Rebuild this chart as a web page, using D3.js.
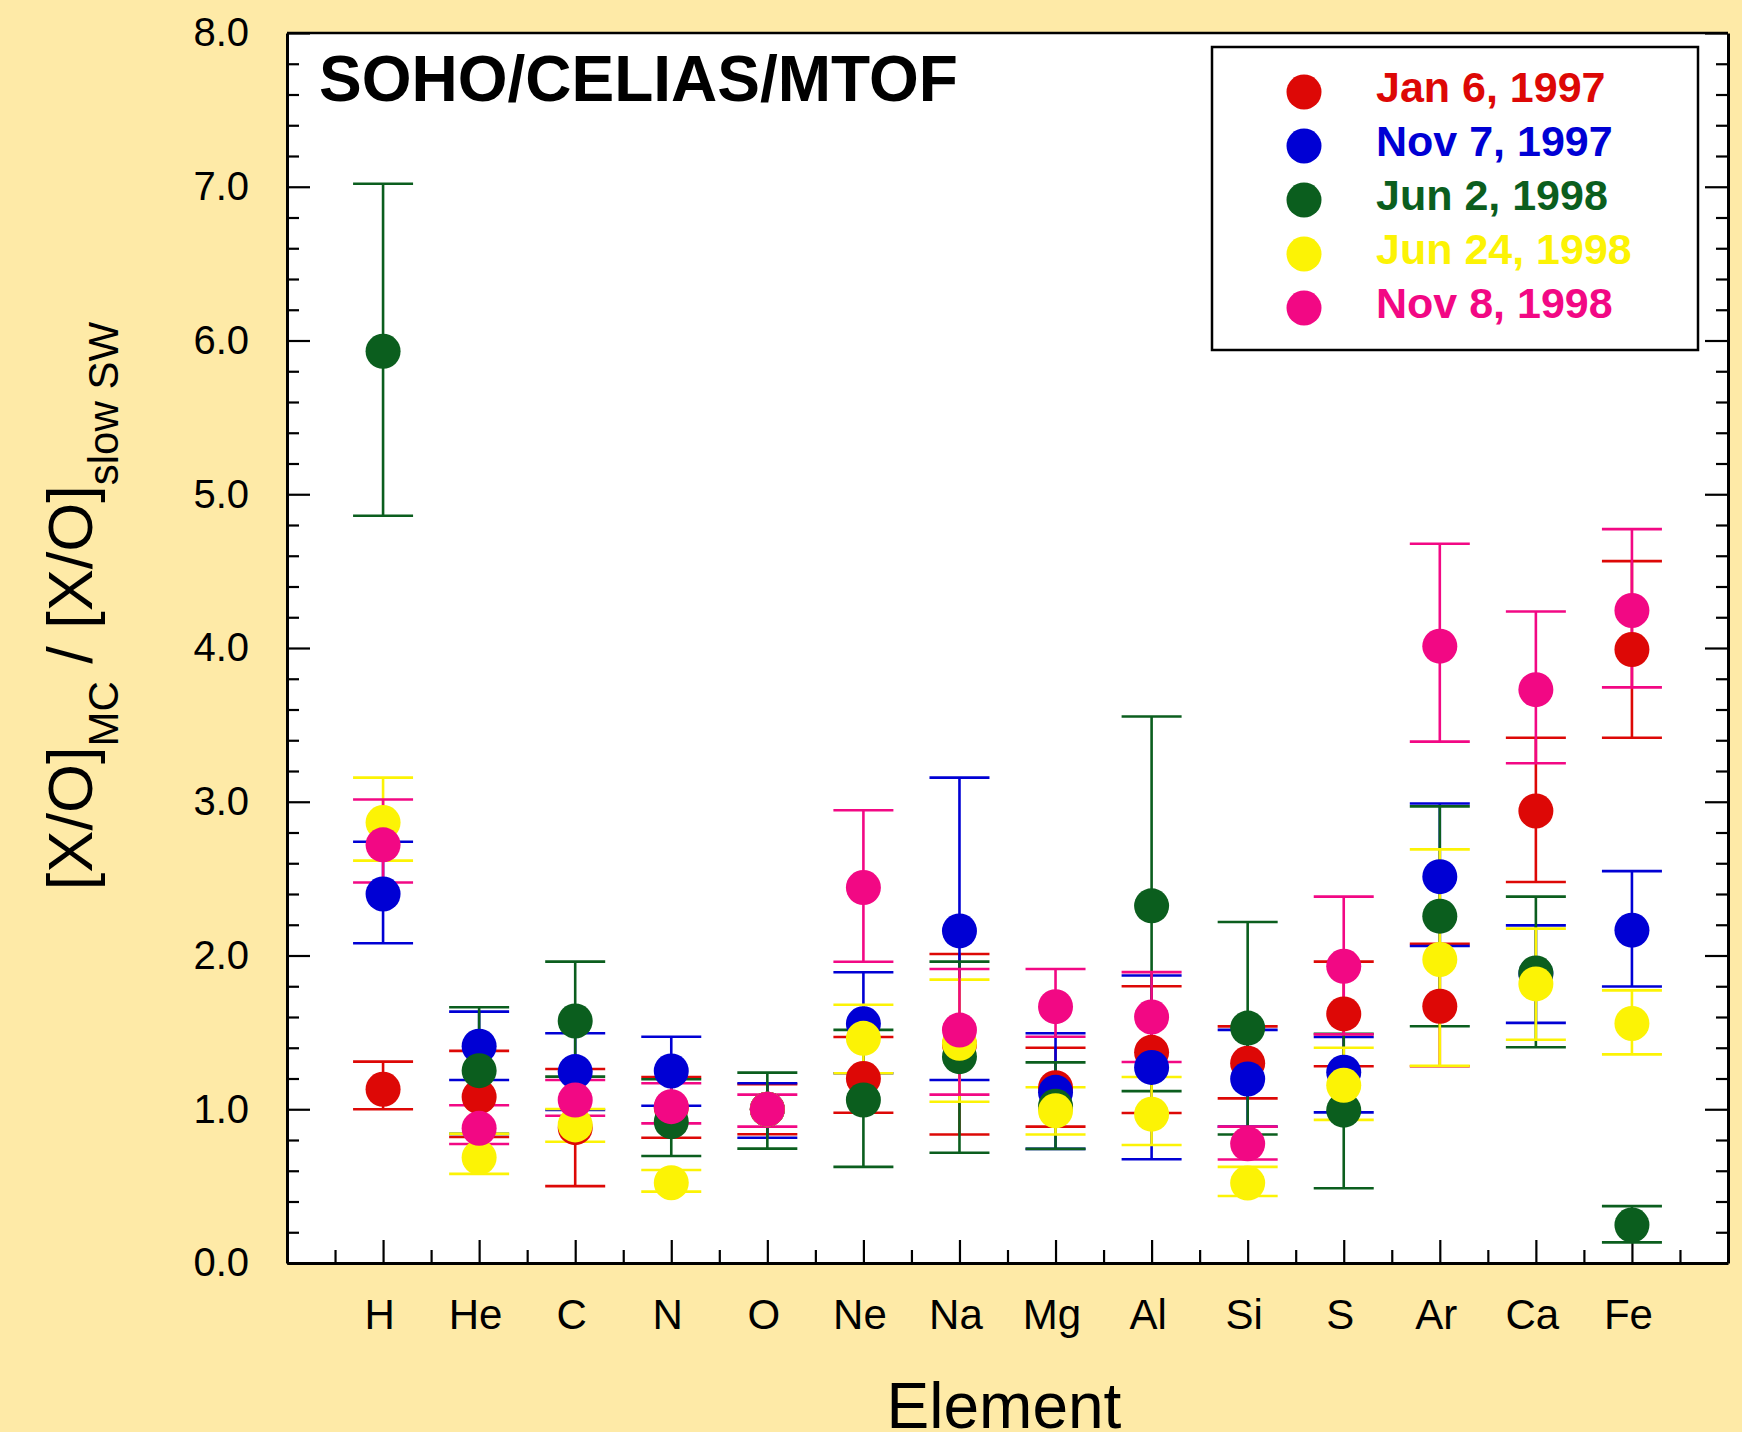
<!DOCTYPE html>
<html>
<head>
<meta charset="utf-8">
<script src="https://cdn.jsdelivr.net/npm/d3@7"></script>
<style>
  html, body { margin: 0; padding: 0; background: #feeaa7; }
  svg { display: block; font-family: "Liberation Sans", Arial, Helvetica, sans-serif; }
</style>
</head>
<body>
<svg id="chart" width="1742" height="1432"></svg>
<script>
const elements = ["H", "He", "C", "N", "O", "Ne", "Na", "Mg", "Al", "Si", "S", "Ar", "Ca", "Fe"];
const yTicks = [0, 1, 2, 3, 4, 5, 6, 7, 8];

const seriesNames = ["Jan 6, 1997", "Nov 7, 1997", "Jun 2, 1998", "Jun 24, 1998", "Nov 8, 1998"];
const seriesColors = ["#dd0806", "#0000d4", "#0b5e1e", "#fcf305", "#f20884"];

// values and error bar ends, one entry per element (null = no bar)
const jan97 = [1.13, 1.08, 0.88, 1.01, 1.0, 1.20, 1.42, 1.14, 1.37, 1.30, 1.62, 1.67, 2.94, 3.99];
const jan97Lo = [1.00, 0.82, 0.50, 0.815, 0.837, 0.977, 0.836, 0.887, 0.976, 1.071, 1.28, 1.28, 2.478, 3.416];
const jan97Hi = [1.31, 1.38, 1.262, 1.21, 1.163, 1.47, 2.01, 1.40, 1.80, 1.539, 1.96, 2.076, 3.416, 4.565];

const nov97 = [2.40, 1.41, 1.245, 1.249, 1.0, 1.556, 2.16, 1.11, 1.272, 1.197, 1.241, 2.513, 1.88, 2.165];
const nov97Lo = [2.08, 1.19, 0.995, 1.023, 0.815, 1.234, 1.19, 0.742, 0.675, 0.887, 0.98, 2.062, 1.562, 1.798];
const nov97Hi = [2.74, 1.635, 1.494, 1.472, 1.169, 1.891, 3.157, 1.494, 1.87, 1.516, 1.47, 2.989, 2.196, 2.549];

const jun98 = [5.93, 1.251, 1.574, 0.919, 1.0, 1.06, 1.342, 1.02, 2.323, 1.528, 0.994, 2.256, 1.886, 0.247];
const jun98Lo = [4.86, 0.84, 1.212, 0.696, 0.744, 0.625, 0.717, 0.742, 1.118, 0.836, 0.486, 1.54, 1.403, 0.134];
const jun98Hi = [7.02, 1.663, 1.96, 1.195, 1.238, 1.516, 1.96, 1.305, 3.554, 2.218, 1.49, 2.97, 2.383, 0.37];

const jun2498 = [2.865, 0.686, 0.898, 0.522, 1.0, 1.461, 1.429, 0.99, 0.968, 0.52, 1.156, 1.974, 1.815, 1.558];
const jun2498Lo = [2.617, 0.58, 0.789, 0.464, null, 1.234, 1.049, 0.836, 0.767, 0.436, 0.931, 1.283, 1.452, 1.357];
const jun2498Hi = [3.157, 0.841, 1.002, 0.605, null, 1.68, 1.843, 1.143, 1.21, 0.625, 1.40, 2.69, 2.175, 1.773];

const nov98 = [2.72, 0.876, 1.06, 1.017, 1.0, 2.442, 1.515, 1.667, 1.60, 0.775, 1.93, 4.012, 3.729, 4.244];
const nov98Lo = [2.475, 0.774, 0.958, 0.908, 0.887, 1.959, 1.095, 1.472, 1.307, 0.673, 1.487, 3.391, 3.25, 3.744];
const nov98Hi = [3.015, 1.026, 1.19, 1.169, 1.095, 2.945, 1.912, 1.912, 1.892, 0.887, 2.383, 4.678, 4.237, 4.773];

const series = [
  { name: seriesNames[0], color: seriesColors[0], val: jan97, lo: jan97Lo, hi: jan97Hi },
  { name: seriesNames[1], color: seriesColors[1], val: nov97, lo: nov97Lo, hi: nov97Hi },
  { name: seriesNames[2], color: seriesColors[2], val: jun98, lo: jun98Lo, hi: jun98Hi },
  { name: seriesNames[3], color: seriesColors[3], val: jun2498, lo: jun2498Lo, hi: jun2498Hi },
  { name: seriesNames[4], color: seriesColors[4], val: nov98, lo: nov98Lo, hi: nov98Hi },
];

const plotLeft = 287, plotRight = 1728, plotTop = 33, plotBottom = 1263;
const capHalf = 30, dotR = 17.5;

const svg = d3.select("#chart");

const x = d3.scaleLinear().domain([0, elements.length + 1]).range([plotLeft, plotRight]);
const y = d3.scaleLinear().domain([0, 8]).range([plotBottom, plotTop]);

// plot area
svg.append("rect")
  .attr("x", plotLeft).attr("y", plotTop)
  .attr("width", plotRight - plotLeft).attr("height", plotBottom - plotTop)
  .attr("fill", "#fff");

// top frame line
svg.append("line")
  .attr("x1", plotLeft).attr("x2", plotRight).attr("y1", plotTop).attr("y2", plotTop)
  .attr("stroke", "#000").attr("stroke-width", 2.5);

const minorY = d3.range(0, 8.001, 0.2).filter((v) => Math.abs(v - Math.round(v)) > 1e-6);

function styleAxis(g) {
  g.select(".domain").attr("stroke-width", 3);
  g.selectAll(".tick line").attr("stroke-width", 2.2);
}

// left axis
svg.append("g")
  .attr("transform", `translate(${plotLeft},0)`)
  .call(d3.axisLeft(y).tickValues(minorY).tickSize(-12).tickFormat(""))
  .call((g) => g.select(".domain").remove())
  .call((g) => g.selectAll(".tick line").attr("stroke-width", 2.2));
svg.append("g")
  .attr("transform", `translate(${plotLeft},0)`)
  .call(d3.axisLeft(y).tickValues(yTicks).tickSize(-23).tickSizeOuter(0).tickPadding(38).tickFormat(d3.format(".1f")))
  .call(styleAxis)
  .call((g) => g.selectAll("text").attr("font-size", 40).attr("font-family", null).attr("fill", "#000"));

// right axis
svg.append("g")
  .attr("transform", `translate(${plotRight},0)`)
  .call(d3.axisRight(y).tickValues(minorY).tickSize(-12).tickFormat(""))
  .call((g) => g.select(".domain").remove())
  .call((g) => g.selectAll(".tick line").attr("stroke-width", 2.2));
svg.append("g")
  .attr("transform", `translate(${plotRight},0)`)
  .call(d3.axisRight(y).tickValues(yTicks).tickSize(-23).tickSizeOuter(0).tickFormat(""))
  .call(styleAxis);

// bottom axis
const minorX = d3.range(0.5, elements.length + 1, 1);
svg.append("g")
  .attr("transform", `translate(0,${plotBottom})`)
  .call(d3.axisBottom(x).tickValues(minorX).tickSize(-13).tickFormat(""))
  .call((g) => g.select(".domain").remove())
  .call((g) => g.selectAll(".tick line").attr("stroke-width", 2.2));
svg.append("g")
  .attr("transform", `translate(0,${plotBottom})`)
  .call(d3.axisBottom(x).tickValues(d3.range(1, elements.length + 1)).tickSize(-23).tickSizeOuter(0)
    .tickPadding(36).tickFormat((d) => elements[d - 1]))
  .call(styleAxis)
  .call((g) => g.selectAll("text").attr("font-size", 42).attr("font-family", null).attr("fill", "#000")
    .attr("dx", -4));

// error bars (all first), then dots
const bars = svg.append("g");
series.forEach((s) => {
  s.val.forEach((v, i) => {
    if (s.lo[i] == null) return;
    const cx = x(i + 1);
    const g = bars.append("g").attr("stroke", s.color).attr("stroke-width", 2.6);
    g.append("line").attr("x1", cx).attr("x2", cx).attr("y1", y(s.lo[i])).attr("y2", y(s.hi[i]));
    g.append("line").attr("x1", cx - capHalf).attr("x2", cx + capHalf).attr("y1", y(s.lo[i])).attr("y2", y(s.lo[i]));
    g.append("line").attr("x1", cx - capHalf).attr("x2", cx + capHalf).attr("y1", y(s.hi[i])).attr("y2", y(s.hi[i]));
  });
});

series.forEach((s) => {
  svg.append("g")
    .selectAll("circle")
    .data(s.val)
    .join("circle")
    .attr("cx", (d, i) => x(i + 1))
    .attr("cy", (d) => y(d))
    .attr("r", dotR)
    .attr("fill", s.color);
});

// title inside plot
svg.append("text")
  .attr("x", 319).attr("y", 101)
  .attr("font-size", 64).attr("font-weight", "bold")
  .text("SOHO/CELIAS/MTOF");

// legend
const legend = svg.append("g");
legend.append("rect")
  .attr("x", 1212).attr("y", 47).attr("width", 486).attr("height", 303)
  .attr("fill", "#fff").attr("stroke", "#000").attr("stroke-width", 2.5);
series.forEach((s, i) => {
  const ly = 92 + i * 54;
  legend.append("circle").attr("cx", 1304).attr("cy", ly).attr("r", dotR).attr("fill", s.color);
  legend.append("text")
    .attr("x", 1376).attr("y", ly + 10)
    .attr("font-size", 43).attr("font-weight", "bold")
    .attr("fill", s.color)
    .text(s.name);
});

// axis titles
svg.append("text")
  .attr("x", 1004).attr("y", 1428)
  .attr("text-anchor", "middle")
  .attr("font-size", 64)
  .text("Element");

const yt = svg.append("text")
  .attr("transform", "translate(92,606) rotate(-90)")
  .attr("text-anchor", "middle")
  .attr("font-size", 63);
yt.append("tspan").text("[X/O]");
yt.append("tspan").attr("font-size", 42).attr("dy", 26).text("MC");
yt.append("tspan").attr("dy", -26).text(" / [X/O]");
yt.append("tspan").attr("font-size", 42).attr("dy", 26).text("slow SW");
</script>
</body>
</html>
